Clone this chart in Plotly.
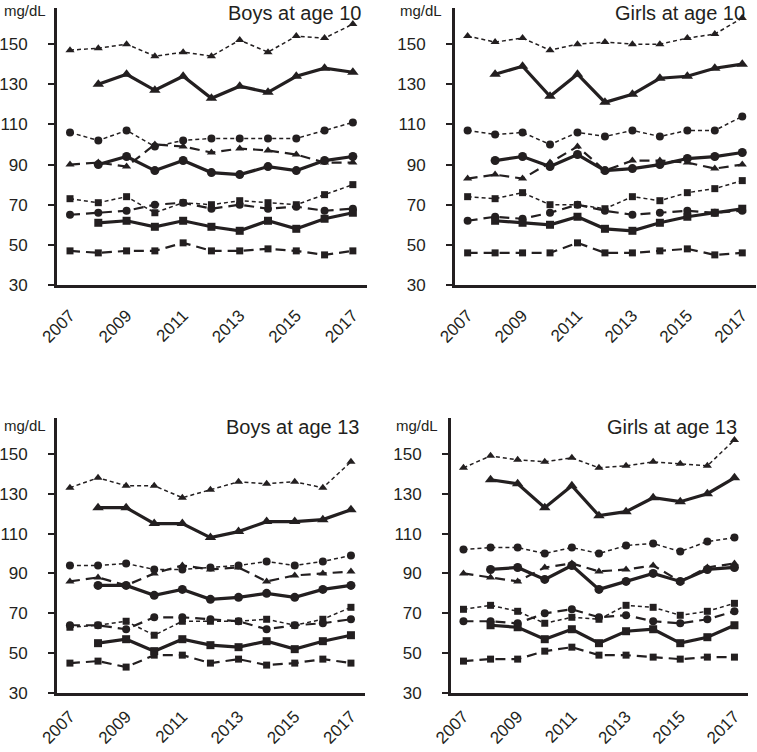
import plotly.graph_objects as go

years = [2007, 2008, 2009, 2010, 2011, 2012, 2013, 2014, 2015, 2016, 2017]
years_solid = years[1:]
tick_years = [2007, 2009, 2011, 2013, 2015, 2017]
y_ticks = [30, 50, 70, 90, 110, 130, 150]

panel_titles = ["Boys at age 10", "Girls at age 10", "Boys at age 13", "Girls at age 13"]

# Boys at age 10
b10_tri_short = [147, 148, 150, 144, 146, 144, 152, 146, 154, 153, 160]
b10_tri_solid = [130, 135, 127, 134, 123, 129, 126, 134, 138, 136]
b10_cir_short = [106, 102, 107, 99, 102, 103, 103, 103, 103, 107, 111]
b10_tri_long = [90, 91, 89, 100, 99, 96, 98, 97, 95, 91, 91]
b10_cir_solid = [90, 94, 87, 92, 86, 85, 89, 87, 92, 94]
b10_sq_short = [73, 71, 74, 66, 71, 70, 72, 71, 70, 75, 80]
b10_cir_long = [65, 66, 67, 70, 71, 68, 70, 68, 69, 67, 68]
b10_sq_solid = [61, 62, 59, 62, 59, 57, 62, 58, 63, 66]
b10_sq_long = [47, 46, 47, 47, 51, 47, 47, 48, 47, 45, 47]

# Girls at age 10
g10_tri_short = [154, 151, 153, 147, 150, 151, 150, 150, 153, 155, 163]
g10_tri_solid = [135, 139, 124, 135, 121, 125, 133, 134, 138, 140]
g10_cir_short = [107, 105, 106, 100, 106, 104, 107, 104, 107, 107, 114]
g10_tri_long = [83, 85, 83, 91, 99, 87, 92, 92, 91, 88, 90]
g10_cir_solid = [92, 94, 89, 95, 87, 88, 90, 93, 94, 96]
g10_sq_short = [74, 73, 76, 70, 70, 68, 74, 72, 76, 78, 82]
g10_cir_long = [62, 64, 63, 66, 70, 67, 65, 66, 67, 66, 67]
g10_sq_solid = [62, 61, 60, 64, 58, 57, 61, 64, 66, 68]
g10_sq_long = [46, 46, 46, 46, 51, 46, 46, 47, 48, 45, 46]

# Boys at age 13
b13_tri_short = [133, 138, 134, 134, 128, 132, 136, 135, 136, 133, 146]
b13_tri_solid = [123, 123, 115, 115, 108, 111, 116, 116, 117, 122]
b13_cir_short = [94, 94, 95, 92, 92, 93, 94, 96, 94, 96, 99]
b13_tri_long = [86, 88, 84, 90, 94, 92, 93, 86, 89, 90, 91]
b13_cir_solid = [84, 84, 79, 82, 77, 78, 80, 78, 82, 84]
b13_sq_short = [63, 64, 66, 59, 66, 66, 66, 67, 64, 67, 73]
b13_cir_long = [64, 64, 62, 68, 68, 67, 66, 62, 64, 65, 67]
b13_sq_solid = [55, 57, 51, 57, 54, 53, 56, 52, 56, 59]
b13_sq_long = [45, 46, 43, 49, 49, 45, 47, 44, 45, 47, 45]

# Girls at age 13
g13_tri_short = [143, 149, 147, 146, 148, 143, 144, 146, 145, 144, 157]
g13_tri_solid = [137, 135, 123, 134, 119, 121, 128, 126, 130, 138]
g13_cir_short = [102, 103, 103, 100, 103, 100, 104, 105, 101, 106, 108]
g13_tri_long = [90, 88, 86, 93, 95, 91, 92, 94, 86, 93, 95]
g13_cir_solid = [92, 93, 87, 94, 82, 86, 90, 86, 92, 93]
g13_sq_short = [72, 74, 71, 65, 68, 67, 74, 73, 69, 71, 75]
g13_cir_long = [66, 66, 65, 70, 72, 68, 69, 66, 65, 67, 71]
g13_sq_solid = [64, 63, 57, 62, 55, 61, 62, 55, 58, 64]
g13_sq_long = [46, 47, 47, 51, 53, 49, 49, 48, 47, 48, 48]

INK = "#231f20"

STYLE_SHORT = dict(width=1.5, dash="4px,3px")
STYLE_SOLID = dict(width=3.2, dash="solid")
STYLE_LONG = dict(width=2.2, dash="10px,6px")

panels = [
    [b10_tri_short, b10_tri_solid, b10_cir_short, b10_tri_long, b10_cir_solid,
     b10_sq_short, b10_cir_long, b10_sq_solid, b10_sq_long],
    [g10_tri_short, g10_tri_solid, g10_cir_short, g10_tri_long, g10_cir_solid,
     g10_sq_short, g10_cir_long, g10_sq_solid, g10_sq_long],
    [b13_tri_short, b13_tri_solid, b13_cir_short, b13_tri_long, b13_cir_solid,
     b13_sq_short, b13_cir_long, b13_sq_solid, b13_sq_long],
    [g13_tri_short, g13_tri_solid, g13_cir_short, g13_tri_long, g13_cir_solid,
     g13_sq_short, g13_cir_long, g13_sq_solid, g13_sq_long],
]

# (marker symbol, marker size, line style, solid-from-2008?)
series_styles = [
    ("triangle-up", 8, STYLE_SHORT, False),
    ("triangle-up", 10, STYLE_SOLID, True),
    ("circle", 8, STYLE_SHORT, False),
    ("triangle-up", 8, STYLE_LONG, False),
    ("circle", 9, STYLE_SOLID, True),
    ("square", 7, STYLE_SHORT, False),
    ("circle", 8, STYLE_LONG, False),
    ("square", 8, STYLE_SOLID, True),
    ("square", 7, STYLE_LONG, False),
]

W, H = 757, 752
# panel pixel boxes: (left, right, top, bottom)
boxes = [
    (57, 367, 8, 285),
    (455, 756, 8, 285),
    (57, 365, 418, 693),
    (451, 748, 418, 693),
]

fig = go.Figure()
layout = dict(
    template="none",
    width=W, height=H,
    margin=dict(l=0, r=0, t=0, b=0, autoexpand=False),
    paper_bgcolor="white", plot_bgcolor="white",
    showlegend=False,
    font=dict(family="Liberation Sans, Arial, sans-serif", color=INK),
)
annotations = []

for i, (data, box) in enumerate(zip(panels, boxes)):
    n = i + 1
    xa = "x" if n == 1 else f"x{n}"
    ya = "y" if n == 1 else f"y{n}"
    for vals, (sym, msize, lstyle, solid) in zip(data, series_styles):
        xs = years_solid if solid else years
        fig.add_trace(go.Scatter(
            x=xs, y=vals, mode="lines+markers",
            line=dict(color=INK, **lstyle),
            marker=dict(symbol=sym, size=msize, color=INK, line=dict(width=0)),
            xaxis=xa, yaxis=ya, hoverinfo="skip", cliponaxis=False,
        ))
    left, right, top, bottom = box
    xdom = [left / W, right / W]
    ydom = [1 - bottom / H, 1 - top / H]
    xkey = "xaxis" if n == 1 else f"xaxis{n}"
    ykey = "yaxis" if n == 1 else f"yaxis{n}"
    layout[xkey] = dict(
        domain=xdom, anchor=ya, range=[2006.54, 2017.5], automargin=False,
        tickmode="array", tickvals=tick_years, ticktext=[str(t) for t in tick_years],
        tickangle=-45, tickfont=dict(size=17, color=INK),
        showline=True, linecolor=INK, linewidth=3,
        ticks="outside", ticklen=11 if n <= 2 else 4, tickcolor="rgba(0,0,0,0)",
        showgrid=False, zeroline=False, fixedrange=True,
    )
    layout[ykey] = dict(
        domain=ydom, anchor=xa, range=[30, 168], automargin=False,
        tickmode="array", tickvals=y_ticks,
        tickfont=dict(size=17, color=INK),
        showline=True, linecolor=INK, linewidth=3,
        ticks="outside", ticklen=6, tickwidth=2, tickcolor=INK,
        ticklabelstandoff=17,
        showgrid=False, zeroline=False, fixedrange=True,
    )
    # unit label
    annotations.append(dict(
        text="mg/dL", xref="paper", yref="paper",
        x=(left - 55) / W if n in (1, 3) else (left - 57) / W,
        y=1 - (top - 3) / H if top > 10 else 1.0,
        xanchor="left", yanchor="top", showarrow=False,
        font=dict(size=15, color=INK),
    ))
    # panel title
    annotations.append(dict(
        text=panel_titles[i], xref="paper", yref="paper",
        x=(right - 4) / W if n in (1, 3) else min(right - 9, W - 2) / W,
        y=1 - (top - 4) / H if top > 10 else 1.0,
        xanchor="right", yanchor="top", showarrow=False,
        font=dict(size=20, color=INK),
    ))

layout["annotations"] = annotations
fig.update_layout(**layout)
fig.write_html(
    "out.html",
    config={"displayModeBar": False, "staticPlot": True},
    post_script="document.body.style.margin='0';document.body.style.overflow='hidden';",
)
